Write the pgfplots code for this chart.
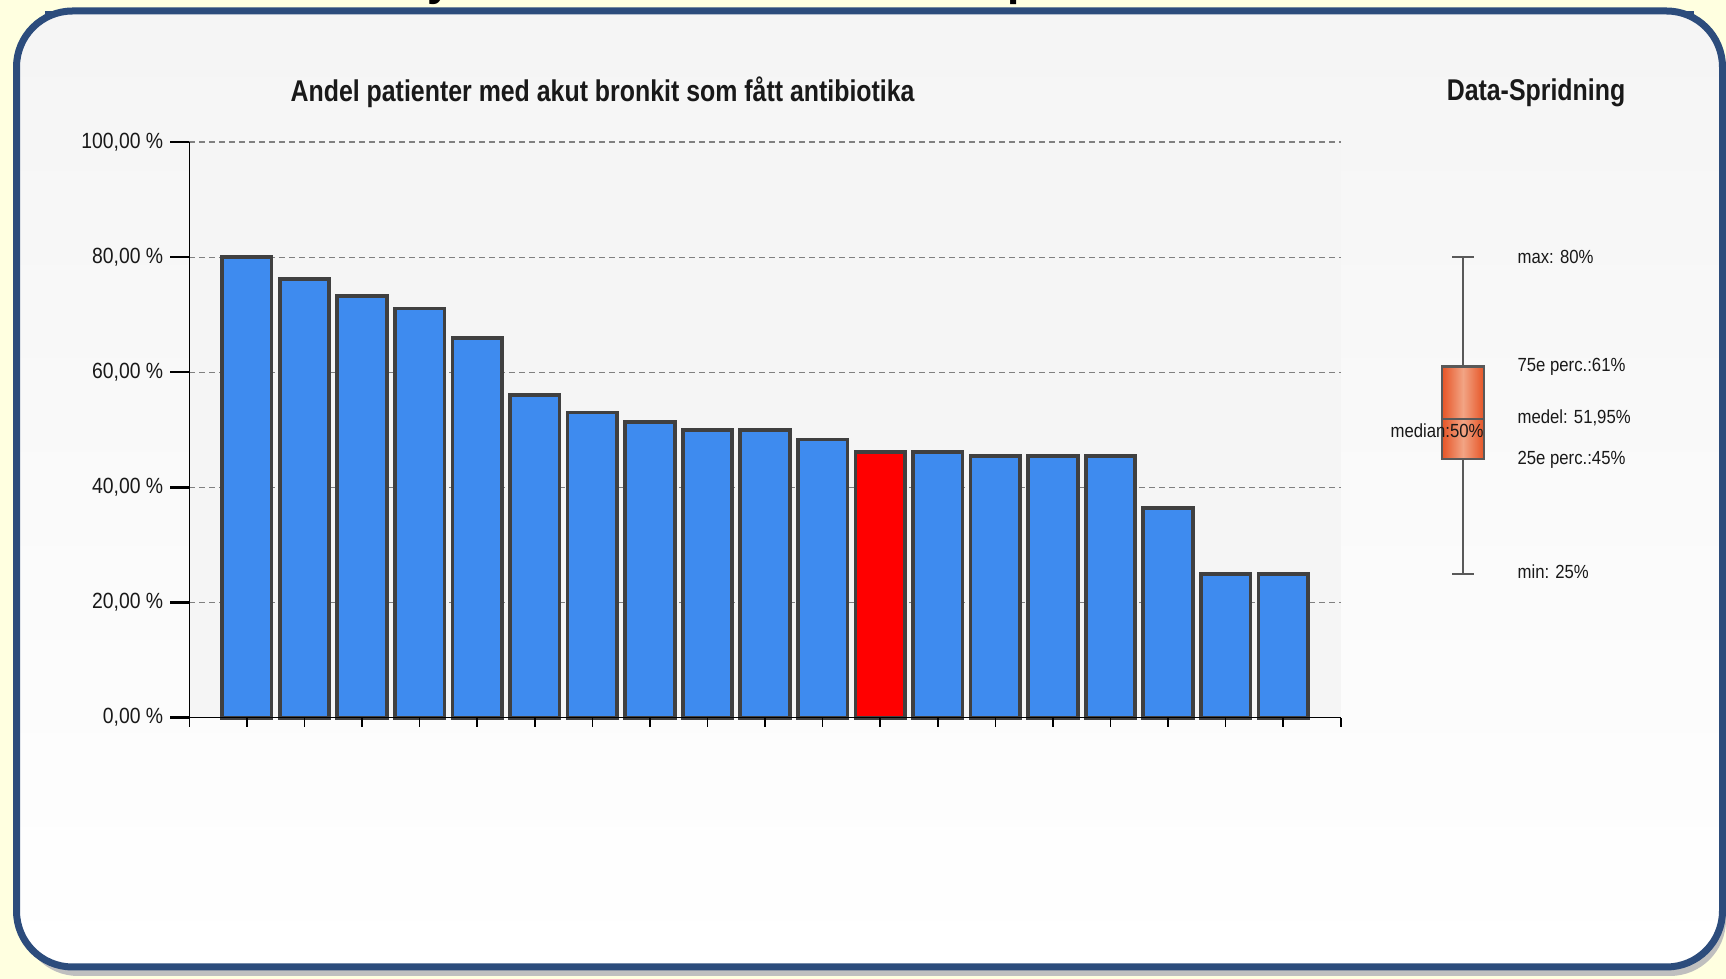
\documentclass[border=0pt]{standalone}
\usepackage{fontspec}
\setmainfont{Liberation Sans}
\newfontfamily\condfont[FakeStretch=0.88]{Liberation Sans}
\newfontfamily\titlefont[FakeStretch=0.83]{Liberation Sans Bold}
\usepackage{pgfplots}
\pgfplotsset{compat=1.18}
\usepgfplotslibrary{statistics}
\definecolor{bgyellow}{RGB}{255,255,224}
\definecolor{panelblue}{RGB}{44,76,124}
\definecolor{barblue}{RGB}{62,139,239}
\definecolor{bardark}{RGB}{64,64,64}
\definecolor{plotbg}{RGB}{245,245,245}
\definecolor{boxorange}{RGB}{230,84,38}
\definecolor{boxlight}{RGB}{242,164,132}
\definecolor{txt}{RGB}{25,25,25}
\begin{document}
\begin{tikzpicture}
\begin{scope}[x=0.5pt,y=0.5pt]
\fill[bgyellow] (0,0) rectangle (1726,979);
\begin{scope}
\clip (0,0) rectangle (1726,979);
\node[anchor=base, inner sep=0, font=\bfseries\fontsize{22}{22}\selectfont] at (440,983) {y};
\node[anchor=base, inner sep=0, font=\bfseries\fontsize{22}{22}\selectfont] at (1021,983) {p};
\end{scope}
% shadow
\fill[black!25, rounded corners=28] (22,3) rectangle (1726,960);
\shadedraw[top color=black!4, bottom color=white, draw=panelblue, line width=3.5, rounded corners=28] (16.5,12) rectangle (1722.5,968);
\draw[panelblue, line width=1.5] (45,966.5) -- (1694,966.5);
\fill[plotbg] (189.3,261.3) rectangle (1340.8,837);
\node[anchor=center, text=txt, font=\titlefont\fontsize{15}{15}\selectfont] at (602.6,886.5) {Andel patienter med akut bronkit som fått antibiotika};
\node[anchor=center, text=txt, font=\titlefont\fontsize{15}{15}\selectfont] at (1536,886.5) {Data-Spridning};
\end{scope}

\begin{axis}[
  at={(94.65pt,130.65pt)}, anchor=south west,
  scale only axis, width=575.75pt, height=287.85pt,
  xmin=0, xmax=20, ymin=0, ymax=100,
  axis x line*=bottom, axis y line*=left,
  axis line style={black, line width=0.6pt},
  xtick=\empty,
  ytick={0,20,40,60,80,100},
  yticklabels={{0,00 \%},{20,00 \%},{40,00 \%},{60,00 \%},{80,00 \%},{100,00 \%}},
  tick align=outside, major tick length=9.5pt,
  ytick style={black, line width=1.2pt},
  y tick label style={font=\condfont\fontsize{11}{11}\selectfont, text=txt},
  ymajorgrids, grid style={gray, line width=0.6pt, dash pattern=on 3pt off 2pt},
  clip=false,
]
\addplot[ybar, bar shift=0pt, bar width=24.75pt, fill=barblue, draw=bardark, line width=1.85pt]
  coordinates {(1,80) (2,76.2) (3,73.3) (4,71.1) (5,66) (6,56.1) (7,53) (8,51.4) (9,50) (10,50) (11,48.3) (13,46.2) (14,45.5) (15,45.5) (16,45.5) (17,36.4) (18,25) (19,25)};
\addplot[ybar, bar shift=0pt, bar width=24.75pt, fill=red, draw=bardark, line width=1.85pt]
  coordinates {(12,46.2)};
\end{axis}

\begin{axis}[
  at={(94.65pt,130.65pt)}, anchor=south west,
  scale only axis, width=575.75pt, height=287.85pt,
  xmin=0, xmax=20, ymin=0, ymax=100,
  axis x line*=bottom, hide y axis,
  axis line style={black, line width=0.6pt},
  xtick={0,...,20}, xticklabels={},
  tick align=outside, major tick length=4.5pt,
  xtick style={black, line width=0.8pt},
]
\end{axis}

\begin{axis}[
  at={(690pt,130.65pt)}, anchor=south west,
  scale only axis, width=160pt, height=287.85pt,
  xmin=0, xmax=10, ymin=0, ymax=100,
  hide axis, clip=false,
]
\addplot[boxplot/draw direction=y,
  boxplot prepared={draw position=2.594, lower whisker=25, lower quartile=45, median=51.95, upper quartile=61, upper whisker=80, box extend=1.3125, whisker extend=0.6875},
  draw=black!65, line width=1.1pt, solid,
  boxplot/every box/.style={draw=black!65, left color=boxorange, right color=boxorange, middle color=boxlight}]
  coordinates {};
\node[anchor=west, text=txt, font=\condfont\fontsize{9.5}{9.5}\selectfont] at (axis cs:4.08,80) {max: 80\%};
\node[anchor=west, text=txt, font=\condfont\fontsize{9.5}{9.5}\selectfont] at (axis cs:4.08,61) {75e perc.:61\%};
\node[anchor=west, text=txt, font=\condfont\fontsize{9.5}{9.5}\selectfont] at (axis cs:4.08,52.06) {medel: 51,95\%};
\node[anchor=west, text=txt, font=\condfont\fontsize{9.5}{9.5}\selectfont] at (axis cs:4.08,44.8) {25e perc.:45\%};
\node[anchor=west, text=txt, font=\condfont\fontsize{9.5}{9.5}\selectfont] at (axis cs:4.08,25.3) {min: 25\%};
\node[anchor=east, inner sep=0pt, text=txt, font=\condfont\fontsize{9.5}{9.5}\selectfont] at (axis cs:3.25,49.8) {median:50\%};
\end{axis}
\pgfresetboundingbox
\path[use as bounding box] (0,0) rectangle (863pt,489.5pt);
\end{tikzpicture}
\end{document}
